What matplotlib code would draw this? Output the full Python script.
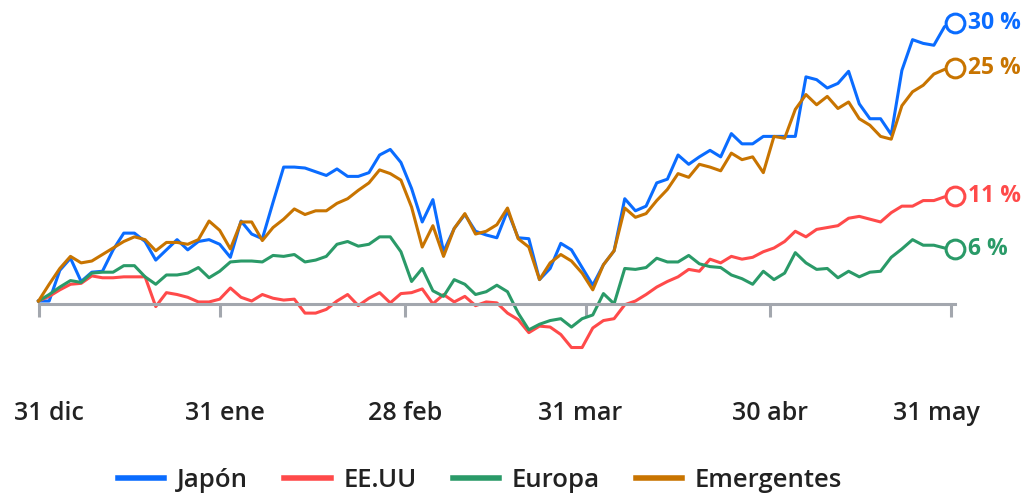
import numpy as np
import matplotlib
matplotlib.use("Agg")
import matplotlib.pyplot as plt
import matplotlib.transforms as mtrans

plt.rcParams['font.family'] = ['Open Sans', 'DejaVu Sans']

# cumulative return (%) since 31 dic
japon = [0, 0, 3.3, 4.6, 2.1, 3.1, 3.2, 5.5, 7.3, 7.3, 6.4, 4.4, 5.5, 6.6, 5.5, 6.4, 6.6, 6.1,
         4.7, 8.6, 7.2, 6.7, 10.6, 14.4, 14.4, 14.3, 13.9, 13.5, 14.2, 13.4, 13.4, 13.8, 15.7, 16.3,
         14.9, 12.1, 8.5, 10.9, 5.3, 7.8, 9.3, 7.5, 7.1, 6.8, 9.7, 6.8, 6.7, 2.3, 3.5, 6.2, 5.5,
         3.6, 1.7, 3.9, 5.4, 11.0, 9.7, 10.2, 12.7, 13.1, 15.7, 14.7, 15.5, 16.2, 15.5, 18.0, 16.9,
         16.9, 17.7, 17.7, 17.7, 17.7, 24.1, 23.8, 22.9, 23.4, 24.7, 21.2, 19.6, 19.6, 17.9, 24.8,
         28.1, 27.7, 27.5, 29.5, 29.9]
eeuu = [0, 0.5, 1.2, 1.8, 1.9, 2.7, 2.5, 2.5, 2.6, 2.6, 2.6, -0.6, 0.9, 0.7, 0.4, -0.1, -0.1, 0.2,
        1.4, 0.4, 0.0, 0.7, 0.3, 0.1, 0.2, -1.3, -1.3, -0.9, 0.0, 0.7, -0.5, 0.3, 0.9, -0.2, 0.8,
        0.9, 1.3, -0.3, 0.7, -0.1, 0.5, -0.5, -0.1, -0.2, -1.3, -2.0, -3.4, -2.7, -2.8, -3.6, -5.0,
        -5.0, -2.9, -2.1, -1.9, -0.4, 0.0, 0.7, 1.5, 2.1, 2.6, 3.4, 3.2, 4.5, 4.1, 4.8, 4.5, 4.7,
        5.3, 5.7, 6.4, 7.5, 6.9, 7.7, 7.9, 8.1, 8.9, 9.1, 8.8, 8.5, 9.5, 10.2, 10.2, 10.8, 10.8,
        11.2, 11.3]
europa = [0, 0.7, 1.5, 2.2, 2.0, 3.0, 3.1, 3.1, 3.8, 3.8, 2.6, 1.8, 2.8, 2.8, 3.0, 3.6, 2.5, 3.2,
          4.2, 4.3, 4.3, 4.2, 4.9, 4.8, 5.0, 4.2, 4.4, 4.8, 6.1, 6.4, 5.9, 6.1, 6.9, 6.9, 5.3, 2.1,
          3.5, 1.1, 0.5, 2.3, 1.8, 0.7, 1.0, 1.7, 1.0, -1.3, -3.1, -2.5, -2.1, -1.9, -2.8, -1.9,
          -1.5, 0.8, -0.3, 3.5, 3.4, 3.6, 4.6, 4.2, 4.2, 4.9, 4.0, 3.7, 3.6, 2.8, 2.4, 1.8, 3.2,
          2.3, 3.0, 5.2, 4.1, 3.4, 3.5, 2.5, 3.2, 2.6, 3.1, 3.2, 4.7, 5.6, 6.6, 6.0, 6.0, 5.7, 5.6]
emergentes = [0, 1.8, 3.5, 4.8, 4.1, 4.3, 5.0, 5.7, 6.4, 6.9, 6.6, 5.4, 6.3, 6.3, 6.1, 6.6, 8.6,
              7.6, 5.6, 8.5, 8.5, 6.5, 7.9, 8.8, 9.9, 9.3, 9.7, 9.7, 10.5, 11.0, 11.9, 12.7, 14.1,
              13.7, 13.0, 10.1, 5.8, 8.1, 4.8, 7.8, 9.4, 7.2, 7.5, 8.2, 10.0, 6.7, 5.8, 2.3, 4.1,
              5.0, 4.3, 3.0, 1.2, 3.9, 5.4, 10.0, 9.0, 9.4, 10.8, 12.0, 13.7, 13.3, 14.7, 14.4,
              14.0, 15.9, 15.2, 15.5, 13.8, 17.7, 17.5, 20.6, 22.2, 21.1, 22.0, 20.7, 21.4, 19.6,
              18.9, 17.7, 17.4, 21.0, 22.5, 23.2, 24.4, 24.9, 25.1]

series_names = ['Japón', 'EE.UU', 'Europa', 'Emergentes']
series_data = [japon, eeuu, europa, emergentes]
end_labels = ['30 %', '11 %', '6 %', '25 %']
colors = ['#0a6cff', '#ff4a4a', '#2a9a68', '#c87400']

tick_pos = [0, 17, 34.4, 51.4, 68.6, 85.6]
tick_labels = ['31 dic', '31 ene', '28 feb', '31 mar', '30 abr', '31 may']
label_shift_px = [10, 5, 0, -6, 0, -14]

fig = plt.figure(figsize=(10.24, 4.93), dpi=100)
ax = fig.add_axes([0.0376, 0.2385, 0.8952, 0.7546])

x = np.arange(len(japon))
for name, vals, lab, col in zip(series_names, series_data, end_labels, colors):
    ax.plot(x, vals, color=col, lw=2.2, label=name, solid_joinstyle='round', clip_on=False)
    ax.plot(x[-1], vals[-1], 'o', ms=13.5, mfc='white', mec=col, mew=2.2, clip_on=False, zorder=5)
    ax.annotate(lab, (x[-1], vals[-1]), xytext=(9.5, 0), textcoords='offset points',
                va='center', ha='left', color=col, fontsize=16.5, fontweight='bold',
                annotation_clip=False)

ax.set_xlim(0, 86)
ax.set_ylim(-8, 32)

for s in ['top', 'right', 'left']:
    ax.spines[s].set_visible(False)
ax.spines['bottom'].set_position(('data', -0.35))
ax.spines['bottom'].set_color('#a3a7ae')
ax.spines['bottom'].set_linewidth(2.2)
ax.set_yticks([])
ax.set_xticks(tick_pos, tick_labels)
ax.tick_params(axis='x', length=9.5, width=2.2, color='#a3a7ae', pad=60,
               labelsize=18, labelcolor='#222222')
for lbl, dx in zip(ax.get_xticklabels(), label_shift_px):
    lbl.set_fontweight(600)
    lbl.set_transform(lbl.get_transform() + mtrans.ScaledTranslation(dx / 100, 0, fig.dpi_scale_trans))

leg = fig.legend(loc='center', bbox_to_anchor=(0.469, 0.026), ncol=4, frameon=False,
                 fontsize=18.5, handlelength=1.8, handletextpad=0.5, columnspacing=1.4,
                 labelcolor='#222222')
for line in leg.get_lines():
    line.set_linewidth(4)
for t in leg.get_texts():
    t.set_fontweight(600)

fig.savefig('out.png', dpi=100)
